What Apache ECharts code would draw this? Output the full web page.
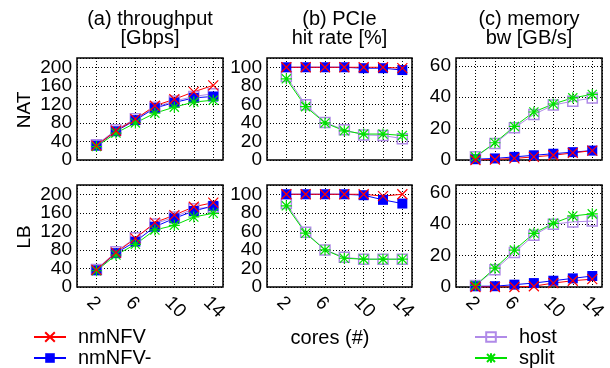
<!DOCTYPE html>
<html><head><meta charset="utf-8">
<script src="https://cdn.jsdelivr.net/npm/echarts@6/dist/echarts.min.js"></script>
<style>html,body{margin:0;padding:0;background:#fff}#c{width:610px;height:368px}</style>
</head><body><div id="c"></div>
<script>
const cores = [2, 4, 6, 8, 10, 12, 14];
const xTickLabels = [2, 6, 10, 14];
const seriesNames = ['host', 'nmNFV-', 'split', 'nmNFV'];
const colTitles = [['(a) throughput', '[Gbps]'], ['(b) PCIe', 'hit rate [%]'], ['(c) memory', 'bw [GB/s]']];
const rowLabels = ['NAT', 'LB'];
const yMax = [220, 110, 65];
const yStep = [40, 20, 20];

// NAT throughput [Gbps]
const natThrNmNFV  = [31, 63, 88, 117, 131, 147, 161];
const natThrNmNFVm = [31, 62, 86, 112, 124, 134, 137];
const natThrHost   = [33, 65, 89, 114, 127, 137, 143];
const natThrSplit  = [29, 58, 80, 101, 114, 125, 129];
// NAT PCIe hit rate [%]
const natPcieNmNFV  = [100, 100, 100, 100, 100, 100, 99];
const natPcieNmNFVm = [100, 100, 100, 100, 99, 99, 97];
const natPcieHost   = [90, 59.5, 40.5, 32.5, 27, 26.5, 23];
const natPcieSplit  = [87.5, 57.5, 40, 31.5, 28, 28, 26.5];
// NAT memory bw [GB/s]
const natMemNmNFV  = [0, 0.3, 1, 2, 3, 4.5, 6];
const natMemNmNFVm = [0.5, 1, 2, 3, 4, 5, 6];
const natMemHost   = [2, 10.5, 20.5, 29, 35, 37.5, 39.5];
const natMemSplit  = [2, 11, 21.4, 30.6, 35.7, 39.6, 41.8];
// LB throughput [Gbps]
const lbThrNmNFV  = [37, 74, 105, 139, 155, 173, 182];
const lbThrNmNFVm = [36, 73, 98, 130, 148, 164, 175];
const lbThrHost   = [38, 76, 106, 136, 151, 169, 172];
const lbThrSplit  = [35, 69, 92, 123, 133, 151, 159];
// LB PCIe hit rate [%]
const lbPcieNmNFV  = [100, 100, 100, 100, 100, 98, 100];
const lbPcieNmNFVm = [100, 100, 100, 100, 99, 94, 90];
const lbPcieHost   = [90, 59, 40, 32, 30, 30, 30];
const lbPcieSplit  = [87.5, 58, 40, 31, 30, 30, 30];
// LB memory bw [GB/s]
const lbMemNmNFV  = [0, 0, 0, 0.5, 2.5, 4, 5];
const lbMemNmNFVm = [0.5, 0.5, 1.5, 2.5, 4, 5.5, 7];
const lbMemHost   = [1, 11, 22, 33, 40, 41.5, 42];
const lbMemSplit  = [1, 12, 23.5, 34.2, 40.6, 45.3, 46.6];

const panels = [
  {nmNFV: natThrNmNFV, 'nmNFV-': natThrNmNFVm, host: natThrHost, split: natThrSplit},
  {nmNFV: natPcieNmNFV, 'nmNFV-': natPcieNmNFVm, host: natPcieHost, split: natPcieSplit},
  {nmNFV: natMemNmNFV, 'nmNFV-': natMemNmNFVm, host: natMemHost, split: natMemSplit},
  {nmNFV: lbThrNmNFV, 'nmNFV-': lbThrNmNFVm, host: lbThrHost, split: lbThrSplit},
  {nmNFV: lbPcieNmNFV, 'nmNFV-': lbPcieNmNFVm, host: lbPcieHost, split: lbPcieSplit},
  {nmNFV: lbMemNmNFV, 'nmNFV-': lbMemNmNFVm, host: lbMemHost, split: lbMemSplit}
];

const FONT = "'Liberation Sans', Arial, Helvetica, sans-serif";
const FS = 19;
const FT = 20;
const styles = {
  'nmNFV':  {color: '#ff0000', symbol: 'path://M0,0L10,10M10,0L0,10', fill: 'rgba(0,0,0,0)', size: 10, bw: 1.2},
  'nmNFV-': {color: '#0000ff', symbol: 'rect', fill: '#0000ff', size: 10, bw: 0},
  'host':   {color: '#b08ae8', symbol: 'rect', fill: 'rgba(255,255,255,0)', size: 10, bw: 1.5},
  'split':  {color: '#00e000', symbol: 'path://M0,0L10,10M10,0L0,10M5,-1L5,11M-1,5L11,5', fill: 'rgba(0,0,0,0)', size: 11, bw: 1.2}
};

const colLeft = [77, 267, 456];
const colWidth = [146, 145, 146];
const rowTop = [58, 185];
const rowHeight = 102;

const grids = [], xAxes = [], yAxes = [], series = [];
for (let r = 0; r < 2; r++) {
  for (let c = 0; c < 3; c++) {
    const i = r * 3 + c;
    grids.push({left: colLeft[c], top: rowTop[r], width: colWidth[c], height: rowHeight,
      show: true, borderColor: '#000', borderWidth: 1.5, backgroundColor: 'transparent'});
    xAxes.push({type: 'value', gridIndex: i, min: 0, max: 15, interval: 2,
      axisLine: {show: false}, axisTick: {show: false},
      splitLine: {show: true, lineStyle: {color: '#000', type: [1, 2], width: 1}},
      axisLabel: {show: r === 1, rotate: -45, margin: 6, verticalAlign: 'top',
        color: '#000', fontSize: FS, fontFamily: FONT, showMinLabel: true, showMaxLabel: true,
        formatter: v => xTickLabels.indexOf(v) >= 0 ? String(v) : ''}});
    // primary value axis (grid lines + labels above zero)
    yAxes.push({type: 'value', gridIndex: i, position: 'left', min: 0, max: yMax[c], interval: yStep[c],
      axisLine: {show: false}, axisTick: {show: false},
      splitLine: {show: true, lineStyle: {color: '#000', type: [1, 2], width: 1}},
      axisLabel: {margin: 5, color: '#000', fontSize: FS, fontFamily: FONT,
        showMinLabel: false, showMaxLabel: true,
        formatter: v => (v > 0 && v % yStep[c] === 0 ? String(v) : '')}});
    // companion axis carrying only the "0" label
    yAxes.push({type: 'value', gridIndex: i, position: 'left', offset: 0, min: 0, max: yMax[c], interval: yStep[c],
      axisLine: {show: false}, axisTick: {show: false}, splitLine: {show: false},
      axisLabel: {margin: 5, color: '#000', fontSize: FS, fontFamily: FONT,
        showMinLabel: true, showMaxLabel: false,
        formatter: v => (v === 0 ? '0' : '')}});
    seriesNames.forEach(name => {
      const st = styles[name];
      const vals = panels[i][name];
      series.push({name: name, type: 'line', xAxisIndex: i, yAxisIndex: 2 * i,
        data: cores.map((x, k) => [x, vals[k]]),
        symbol: st.symbol, symbolSize: st.size, showSymbol: true,
        lineStyle: {color: st.color, width: 1},
        itemStyle: {color: st.fill, borderColor: st.color, borderWidth: st.bw},
        emphasis: {disabled: true}, animation: false, z: 3});
    });
  }
}

const graphic = [];
colTitles.forEach((t, c) => {
  const cx = colLeft[c] + colWidth[c] / 2;
  graphic.push({type: 'text', x: cx, y: 19, style: {text: t[0], align: 'center', verticalAlign: 'middle', fontSize: FT, fontFamily: FONT, fill: '#000'}});
  graphic.push({type: 'text', x: cx, y: 38, style: {text: t[1], align: 'center', verticalAlign: 'middle', fontSize: FT, fontFamily: FONT, fill: '#000'}});
});
rowLabels.forEach((t, r) => {
  graphic.push({type: 'text', x: 25, y: rowTop[r] + rowHeight / 2 + 1, rotation: Math.PI / 2,
    style: {text: t, align: 'center', verticalAlign: 'middle', fontSize: FS, fontFamily: FONT, fill: '#000'}});
});
graphic.push({type: 'text', x: 330, y: 338, style: {text: 'cores (#)', align: 'center', verticalAlign: 'middle', fontSize: FT, fontFamily: FONT, fill: '#000'}});

const legendBase = {orient: 'vertical', itemWidth: 32, itemHeight: 12, itemGap: 1, padding: 0, bottom: 0,
  textStyle: {fontSize: FT, lineHeight: 18, fontFamily: FONT, color: '#000', padding: [0, 0, 0, 7]}, selectedMode: false};

const chart = echarts.init(document.getElementById('c'), null, {renderer: 'canvas'});
chart.setOption({
  animation: false,
  backgroundColor: '#fff',
  grid: grids, xAxis: xAxes, yAxis: yAxes, series: series,
  legend: [
    Object.assign({}, legendBase, {data: ['nmNFV', 'nmNFV-'], left: 33}),
    Object.assign({}, legendBase, {data: ['host', 'split'], left: 474})
  ],
  graphic: graphic
});
</script></body></html>
